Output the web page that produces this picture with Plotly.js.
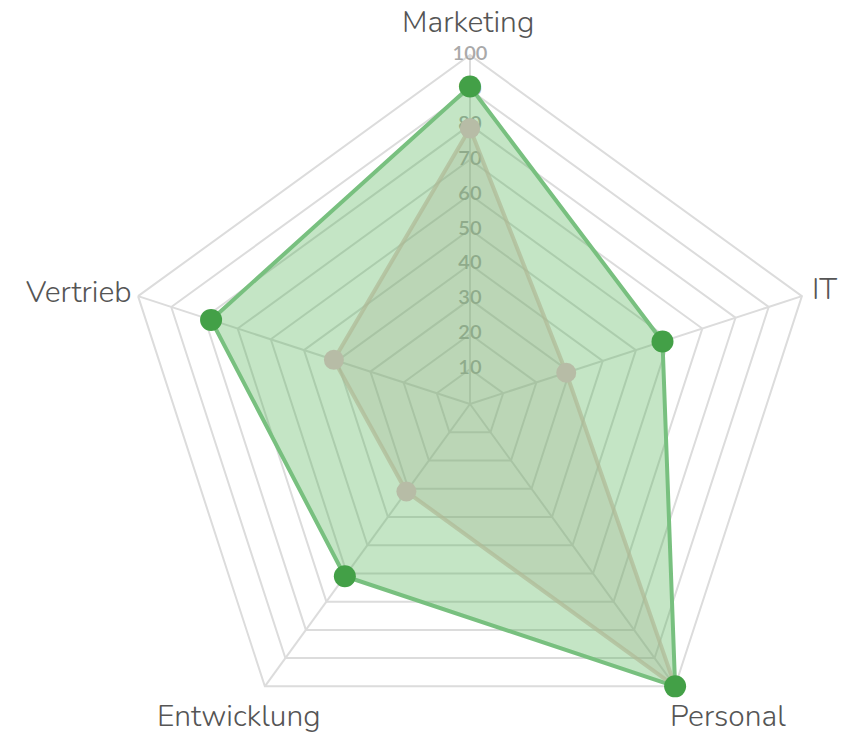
<!DOCTYPE html>
<html>
<head>
<meta charset="utf-8">
<script src="https://cdn.plot.ly/plotly-3.0.1.min.js"></script>
<style>
html,body{margin:0;padding:0;overflow:hidden;background:#fff;width:861px;height:738px;}
#chart{width:861px;height:760px;}
</style>
</head>
<body>
<div id="chart"></div>
<script>
// Data
var categories = ['Marketing', 'IT', 'Personal', 'Entwicklung', 'Vertrieb'];
var seriesGreen = [91, 58, 100, 61, 78];
var seriesGray = [79, 29, 100, 31, 41];
var radialTicks = [10, 20, 30, 40, 50, 60, 70, 80, 90, 100];
var radialTickLabels = ['10', '20', '30', '40', '50', '60', '70', '80', '90', '100'];

var H = 760;
// label placement (pixels from top-left of the page) for each category
var labelPos = [
  {x: 468, y: 1, xanchor: 'center', yanchor: 'top'},
  {x: 811, y: 289, xanchor: 'left', yanchor: 'middle'},
  {x: 728, y: 716, xanchor: 'center', yanchor: 'middle'},
  {x: 239, y: 716, xanchor: 'center', yanchor: 'middle'},
  {x: 133, y: 292, xanchor: 'right', yanchor: 'middle'}
];

function closeLoop(arr) { return arr.concat([arr[0]]); }

var tickTrace = {
  type: 'scatterpolar',
  mode: 'text',
  r: radialTicks,
  theta: radialTicks.map(function () { return categories[0]; }),
  text: radialTickLabels,
  textposition: 'middle center',
  textfont: {family: 'Lato, "Open Sans", sans-serif', size: 20, color: '#a9a9a9', weight: 600},
  hoverinfo: 'skip',
  showlegend: false
};

var greenTrace = {
  type: 'scatterpolar',
  mode: 'lines',
  r: closeLoop(seriesGreen),
  theta: closeLoop(categories),
  fill: 'toself',
  fillcolor: 'rgba(76,175,80,0.33)',
  line: {color: '#78c07f', width: 4},
  showlegend: false
};

var grayTrace = {
  type: 'scatterpolar',
  mode: 'lines+markers',
  r: closeLoop(seriesGray),
  theta: closeLoop(categories),
  fill: 'toself',
  fillcolor: 'rgba(160,170,140,0.25)',
  line: {color: 'rgba(175,185,150,0.7)', width: 4},
  marker: {color: '#b7bca6', size: 20},
  showlegend: false
};

var greenMarkers = {
  type: 'scatterpolar',
  mode: 'markers',
  r: seriesGreen,
  theta: categories,
  marker: {color: '#43a047', size: 22},
  showlegend: false
};

var annotations = categories.map(function (c, i) {
  var p = labelPos[i];
  return {
    text: c,
    xref: 'paper', yref: 'paper',
    x: p.x / 861, y: 1 - p.y / H,
    xanchor: p.xanchor, yanchor: p.yanchor,
    showarrow: false,
    borderpad: 0,
    font: {family: 'Nunito, Lato, "Open Sans", sans-serif', size: 30, color: '#555555', weight: 300}
  };
});

var layout = {
  width: 861,
  height: H,
  margin: {l: 0, r: 0, t: 0, b: 0},
  paper_bgcolor: '#ffffff',
  showlegend: false,
  annotations: annotations,
  polar: {
    domain: {x: [0.1405, 0.9512], y: [0.0092, 0.9276]},
    gridshape: 'linear',
    bgcolor: 'rgba(0,0,0,0)',
    radialaxis: {
      range: [0, 100],
      tick0: 0,
      dtick: 10,
      showticklabels: false,
      ticks: '',
      showline: false,
      gridcolor: '#dcdcdc',
      gridwidth: 2,
      layer: 'below traces'
    },
    angularaxis: {
      rotation: 90,
      direction: 'clockwise',
      gridcolor: '#dcdcdc',
      gridwidth: 2,
      showline: true,
      linecolor: '#dcdcdc',
      linewidth: 2,
      ticks: '',
      showticklabels: false,
      layer: 'below traces'
    }
  }
};

Plotly.newPlot('chart', [tickTrace, greenTrace, grayTrace, greenMarkers], layout, {displayModeBar: false, staticPlot: true});
</script>
</body>
</html>
